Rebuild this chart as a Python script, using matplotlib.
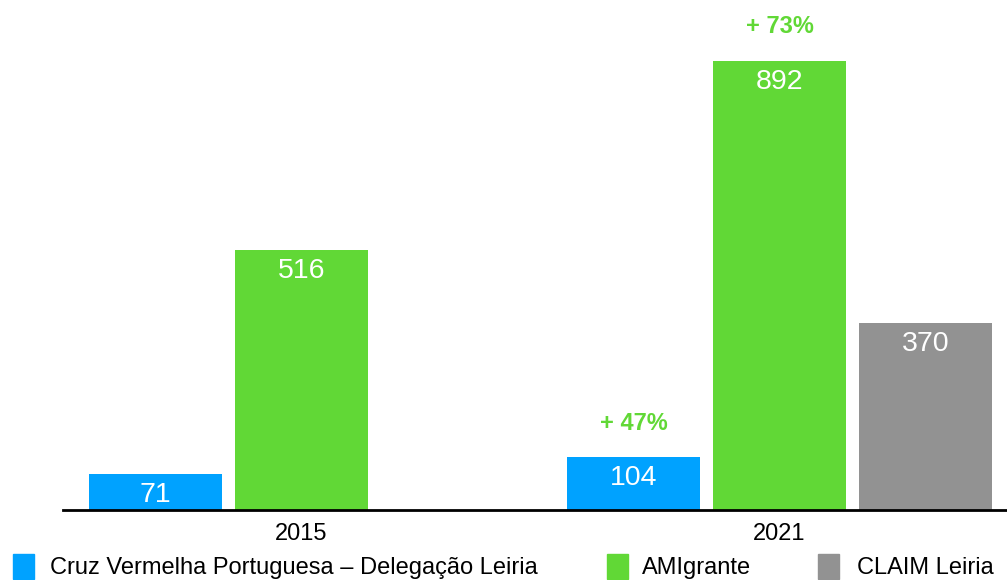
import matplotlib
matplotlib.use("Agg")
import matplotlib.pyplot as plt
from matplotlib.patches import Rectangle
import numpy as np

plt.rcParams['font.family'] = ['Liberation Sans', 'DejaVu Sans']

years = ["2015", "2021"]
series_names = ["Cruz Vermelha Portuguesa – Delegação Leiria", "AMIgrante", "CLAIM Leiria"]
cruz = [71, 104]
amigrante = [516, 892]
claim = [None, 370]
growth_labels = ["+ 47%", "+ 73%"]  # 2021 vs 2015 for Cruz and AMIgrante
colors = ["#00A2FF", "#61D836", "#929292"]

W, H = 1007, 580
fig = plt.figure(figsize=(W / 100, H / 100), dpi=100)
ax_left, ax_right = 63, 1007
base_y, top_y = 509.5, 0
ax = fig.add_axes([ax_left / W, (H - base_y) / H, (ax_right - ax_left) / W, (base_y - top_y) / H])

x = np.arange(len(years))
offset = 146 / 478
width = 133 / 478
series = [cruz, amigrante, claim]
px_per_unit = 449 / 892
ax.set_ylim(0, (base_y - top_y) / px_per_unit)
ax.set_xlim((ax_left - 301.5) / 478, (ax_right - 301.5) / 478)

for i, (vals, col) in enumerate(zip(series, colors)):
    for j, v in enumerate(vals):
        if v is None:
            continue
        xc = x[j] + (i - 1) * offset
        ax.bar(xc, v, width=width, color=col, zorder=2)
        ax.text(xc, v - 21 / px_per_unit, str(v), ha='center', va='center',
                color='white', fontsize=20.5)

# growth annotations for 2021
for i, lab in enumerate(growth_labels):
    vals = series[i]
    xc = x[1] + (i - 1) * offset
    ax.text(xc, vals[1] + 34 / px_per_unit, lab, ha='center', va='center',
            color=colors[1], fontsize=17, fontweight='bold')

for s in ['top', 'right', 'left']:
    ax.spines[s].set_visible(False)
ax.spines['bottom'].set_linewidth(2)
ax.spines['bottom'].set_color('black')
ax.set_yticks([])
ax.set_xticks(x)
ax.set_xticklabels(years, fontsize=17)
ax.tick_params(axis='x', length=0, pad=10)

# legend
leg_sq_x = [13, 607, 818]
leg_txt_x = [50, 642, 857]
sq_w, sq_h = 21, 25
leg_cy = 566
for sx, tx, name, col in zip(leg_sq_x, leg_txt_x, series_names, colors):
    fig.patches.append(Rectangle((sx / W, (H - leg_cy - sq_h / 2) / H), sq_w / W, sq_h / H,
                                 transform=fig.transFigure, color=col, figure=fig))
    fig.text(tx / W, (H - leg_cy - 2) / H, name, ha='left', va='center', fontsize=17)

fig.savefig("out.png", dpi=100)
